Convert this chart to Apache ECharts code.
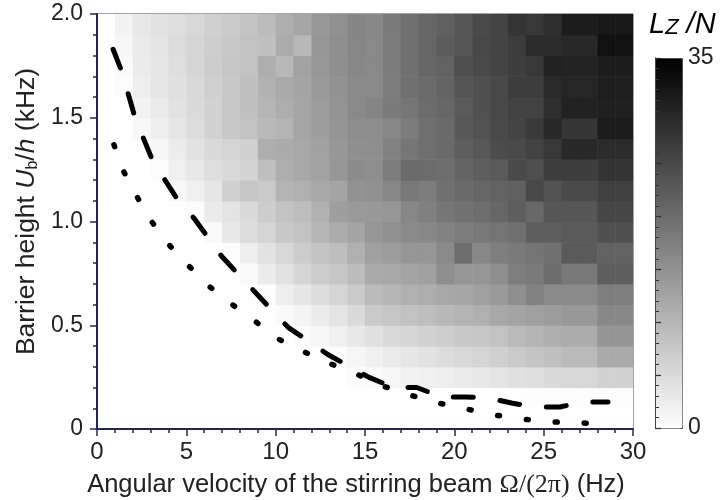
<!DOCTYPE html>
<html><head><meta charset="utf-8">
<script src="https://cdn.jsdelivr.net/npm/echarts@6/dist/echarts.min.js"></script>
<style>html,body{margin:0;padding:0;background:#fff}#c{width:720px;height:500px}</style>
</head><body><div id="c"></div>
<script>
// Bin edges
const omegaEdges = [0,1,2,3,4,5,6,7,8,9,10,11,12,13,14,15,16,17,18,19,20,21,22,23,24,25,26,27,28,29,30];
const barrierEdges = [0,0.1,0.2,0.3,0.4,0.5,0.6,0.7,0.8,0.9,1.0,1.1,1.2,1.3,1.4,1.5,1.6,1.7,1.8,1.9,2.0];
// Lz/N per row (row lower edge in kHz), columns = omega bins 0..29 Hz
const lz_190 = [0.1,1.8,3.2,4.0,4.5,5.4,6.5,7.3,7.9,9.2,11.1,12.2,14.1,15.2,16.7,16.3,18.3,19.6,21.0,21.8,23.4,24.8,25.7,27.7,27.3,28.7,31.2,31.2,31.7,31.7];
const lz_180 = [0,1.2,2.9,3.7,4.8,5.6,6.7,7.5,8.4,8.6,11.4,9.7,14.4,15.5,16.6,16.2,18.1,19.6,21.0,22.4,23.2,25.1,25.7,26.8,29.0,29.0,29.5,29.5,32.7,32.7];
const lz_170 = [0,0.7,2.6,3.4,4.5,5.6,6.9,7.8,8.4,11.1,9.7,12.8,14.1,15.5,16.5,16.2,18.1,19.6,21.0,21.5,24.3,24.8,25.7,26.5,27.3,30.3,30.1,30.1,31.2,31.2];
const lz_160 = [0,0.4,2.3,3.4,4.3,5.4,6.6,7.5,8.6,10.6,11.7,12.5,13.9,15.0,16.0,16.0,18.0,19.6,20.3,21.3,23.5,24.0,25.1,26.8,26.8,29.2,29.8,29.8,30.9,30.9];
const lz_150 = [0,0,1.8,2.9,4.0,5.1,6.2,7.5,8.6,10.1,11.3,12.4,13.5,14.8,16.1,16.7,18.3,18.8,20.2,21.0,22.6,24.0,25.1,25.9,25.9,28.7,30.3,30.3,30.6,30.6];
const lz_140 = [0,0,1.0,2.3,3.4,4.8,6.2,7.5,8.4,9.6,10.3,12.4,13.3,14.6,15.6,15.6,16.5,18.1,19.6,20.5,22.9,23.7,24.8,25.7,27.0,29.5,27.6,27.6,31.2,31.2];
const lz_130 = [0,0,0,1.2,2.6,4.0,5.1,5.9,6.5,11.1,11.5,12.0,12.9,14.3,15.4,15.5,17.3,18.8,19.8,20.5,22.1,22.9,24.6,24.8,25.9,27.3,29.5,29.5,29.0,29.0];
const lz_120 = [0,0,0,0.4,2.1,3.2,4.5,5.1,6.0,8.8,11.1,11.9,12.8,14.4,15.8,15.5,18.0,20.3,20.2,19.9,21.3,22.1,22.6,24.8,24.3,26.5,26.5,26.5,28.0,28.0];
const lz_110 = [0,0,0,0,1.0,2.1,3.4,6.5,7.8,7.3,10.3,10.8,11.9,12.5,15.0,15.3,16.6,18.5,17.9,19.6,20.5,21.0,21.5,21.8,25.1,23.7,24.8,24.8,26.2,26.2];
const lz_100 = [0,0,0,0,0,0.4,2.7,3.7,5.1,6.8,8.3,9.1,10.7,13.3,13.9,14.0,14.3,16.5,17.5,18.8,19.4,19.9,21.0,22.1,20.7,23.2,23.2,23.2,25.4,25.4];
const lz_090 = [0,0,0,0,0,0,0.7,3.2,4.8,5.9,7.5,8.4,10.0,11.4,12.5,14.4,15.2,16.1,16.3,17.2,18.0,18.5,19.1,19.6,22.1,22.1,22.6,22.6,24.0,24.0];
const lz_080 = [0,0,0,0,0,0,0,0.4,2.3,4.0,5.4,7.0,8.1,8.9,10.8,13.0,13.6,14.4,14.4,16.1,19.9,16.3,17.7,18.3,19.1,19.6,22.6,22.6,21.5,21.5];
const lz_070 = [0,0,0,0,0,0,0,0,0.7,2.6,4.0,5.6,7.0,7.8,9.2,11.7,11.9,12.5,13.0,15.5,14.4,14.4,15.5,17.7,18.3,20.2,18.5,18.5,22.1,22.1];
const lz_060 = [0,0,0,0,0,0,0,0,0,0.4,2.3,3.4,4.8,5.9,7.3,9.3,10.0,10.8,11.2,11.9,12.2,13.0,13.9,15.5,17.2,16.1,16.1,16.1,17.7,17.7];
const lz_050 = [0,0,0,0,0,0,0,0,0,0,0.7,1.5,2.6,3.7,5.1,7.3,7.8,8.4,8.9,9.7,10.3,10.8,11.9,12.5,13.0,13.6,14.1,14.1,16.3,16.3];
const lz_040 = [0,0,0,0,0,0,0,0,0,0,0,0.4,1.2,2.1,3.2,4.3,5.1,5.6,6.2,6.7,7.5,7.8,8.4,9.5,10.3,11.1,11.4,11.4,14.5,14.5];
const lz_030 = [0,0,0,0,0,0,0,0,0,0,0,0,0,0.4,1.2,2.1,2.9,3.4,4.0,4.8,5.4,5.9,6.5,7.3,8.1,8.6,9.5,9.5,11.7,11.7];
const lz_020 = [0,0,0,0,0,0,0,0,0,0,0,0,0,0,0.4,0.7,1.2,1.8,2.1,2.3,2.7,3.2,3.7,4.3,4.5,5.1,5.4,5.4,6.2,6.2];
const lz_010 = [0,0,0,0,0,0,0,0,0,0,0,0,0,0,0,0,0,0,0.2,0.2,0.2,0.2,0.2,0.2,0.3,0.4,0.4,0.4,0.4,0.4];
const lz_000 = [0,0,0,0,0,0,0,0,0,0,0,0,0,0,0,0,0,0,0,0,0,0,0,0,0,0,0,0,0,0];
// rows ordered from bottom (0-0.1 kHz) to top (1.9-2.0 kHz)
const lzRows = [lz_000,lz_010,lz_020,lz_030,lz_040,lz_050,lz_060,lz_070,lz_080,lz_090,lz_100,lz_110,lz_120,lz_130,lz_140,lz_150,lz_160,lz_170,lz_180,lz_190];
// Boundary curves [omega (Hz), Ub/h (kHz)]
const dashCurve = [[0.9,1.83],[1.4,1.72],[2.13,1.50],[3.13,1.29],[4.48,1.11],[5.48,1.01],[7.0,0.83],[8.84,0.66],[10.7,0.49],[12.9,0.36],[15.2,0.25],[16.6,0.20],[17.9,0.20],[19.3,0.154],[20.6,0.154],[21.9,0.15],[23.2,0.125],[24.5,0.106],[25.9,0.106],[27.2,0.13],[28.6,0.13]];
const dotCurve = [[0.95,1.37],[1.5,1.24],[2.24,1.12],[2.97,1.01],[3.9,0.90],[4.98,0.80],[6.1,0.70],[7.4,0.61],[8.7,0.53],[10.0,0.44],[11.4,0.38],[12.9,0.32],[14.4,0.27],[15.9,0.21],[17.5,0.164],[19.1,0.125],[20.7,0.096],[22.3,0.067],[23.8,0.048],[25.5,0.034],[27.1,0.029],[28.6,0.024]];
const colorbarMin = 0, colorbarMax = 35;

const cells = [];
lzRows.forEach((row, k) => {
  row.forEach((v, c) => {
    cells.push([omegaEdges[c], omegaEdges[c+1], barrierEdges[k], barrierEdges[k+1], v]);
  });
});

const FONT = "'Liberation Sans', Arial, sans-serif";
const SERIF = "'Liberation Serif', 'Times New Roman', serif";
const AX = '#24245a';
const chart = echarts.init(document.getElementById('c'));
chart.setOption({
  animation: false,
  backgroundColor: '#fff',
  title: {
    left: 649, top: 1, padding: 0,
    text: '{i|L}{s|Z}{i| /N}',
    textStyle: {
      fontWeight: 'normal',
      rich: {
        i: {fontFamily: FONT, fontStyle: 'italic', fontWeight: 'normal', fontSize: 29, color: '#000', lineHeight: 38, verticalAlign: 'bottom'},
        s: {fontFamily: FONT, fontStyle: 'italic', fontWeight: 'normal', fontSize: 22, color: '#000', lineHeight: 30, verticalAlign: 'bottom'}
      }
    }
  },
  grid: [
    {left: 97, top: 14, right: 87, bottom: 71, show: true, borderColor: '#444466', borderWidth: 1, backgroundColor: 'transparent', containLabel: false, outerBoundsMode: 'none'},
    {left: 655, top: 58, width: 27, height: 370, show: false, containLabel: false, outerBoundsMode: 'none'}
  ],
  xAxis: [
    {type: 'value', min: 0, max: 30, interval: 5, z: 10,
     name: '{t|Angular velocity of the stirring beam }{g|Ω/(2π)}{t| (Hz)}', nameLocation: 'middle', nameGap: 43,
     nameTextStyle: {padding: [0, 18, 0, 0], rich: {
       t: {fontFamily: FONT, fontSize: 25.5, color: '#222'},
       g: {fontFamily: SERIF, fontSize: 26, color: '#222'}
     }},
     axisLine: {show: true, onZero: false, lineStyle: {color: AX, width: 2}},
     axisTick: {show: true, length: 7, lineStyle: {color: AX, width: 1.5}},
     minorTick: {show: true, splitNumber: 5, length: 4, lineStyle: {color: AX, width: 1.5}},
     axisLabel: {fontFamily: FONT, fontSize: 24, color: '#222', margin: 11},
     splitLine: {show: false}},
    {type: 'value', gridIndex: 1, show: false, min: 0, max: 1}
  ],
  yAxis: [
    {type: 'value', min: 0, max: 2, interval: 0.5, z: 10,
     name: '{t|Barrier height }{i|U}{s|b}{t|/}{i|h}{t| (kHz)}', nameLocation: 'middle', nameGap: 52,
     nameTextStyle: {padding: [0, 0, 0, 20], rich: {
       t: {fontFamily: FONT, fontSize: 26.5, color: '#222', lineHeight: 34, verticalAlign: 'bottom'},
       i: {fontFamily: FONT, fontSize: 26.5, fontStyle: 'italic', color: '#222', lineHeight: 34, verticalAlign: 'bottom'},
       s: {fontFamily: FONT, fontSize: 16, color: '#222', lineHeight: 18, verticalAlign: 'bottom'}
     }},
     axisLine: {show: true, onZero: false, lineStyle: {color: AX, width: 2}},
     axisTick: {show: true, length: 7, lineStyle: {color: AX, width: 1.5}},
     minorTick: {show: true, splitNumber: 5, length: 4, lineStyle: {color: AX, width: 1.5}},
     axisLabel: {fontFamily: FONT, fontSize: 23, color: '#222', margin: 14,
       formatter: v => v === 0 ? '0' : v.toFixed(1)},
     splitLine: {show: false}},
    {type: 'value', gridIndex: 1, min: colorbarMin, max: colorbarMax, interval: 5, position: 'right', z: 10,
     axisLine: {show: true, lineStyle: {color: '#444', width: 1}},
     axisTick: {show: true, length: 6, lineStyle: {color: '#222', width: 1.2}},
     axisLabel: {fontFamily: FONT, fontSize: 23, color: '#222', margin: 6,
       formatter: v => (v === colorbarMin || v === colorbarMax) ? String(v) : ''},
     splitLine: {show: false}},
    {type: 'value', gridIndex: 1, min: colorbarMin, max: colorbarMax, interval: 1, position: 'left', z: 10,
     axisLine: {show: true, lineStyle: {color: '#444', width: 1}},
     axisTick: {show: true, inside: true, length: 4, lineStyle: {color: '#333', width: 1}},
     axisLabel: {show: false},
     splitLine: {show: false}}
  ],
  visualMap: {
    type: 'continuous', min: colorbarMin, max: colorbarMax, dimension: 4, seriesIndex: 0,
    orient: 'vertical', left: 655, top: 58, itemWidth: 27, itemHeight: 370,
    calculable: false, padding: 0, hoverLink: false,
    inRange: {color: ['#ffffff', '#000000']},
    borderColor: '#444', borderWidth: 1, z: 1
  },
  series: [
    {type: 'custom', xAxisIndex: 0, yAxisIndex: 0, clip: true, z: 1,
     encode: {x: [0, 1], y: [2, 3]},
     data: cells,
     renderItem: function (params, api) {
       const p0 = api.coord([api.value(0), api.value(3)]);
       const p1 = api.coord([api.value(1), api.value(2)]);
       return {type: 'rect', shape: {x: p0[0], y: p0[1], width: p1[0] - p0[0] + 0.6, height: p1[1] - p0[1] + 0.6},
               style: {fill: api.visual('color')}};
     }},
    {type: 'line', xAxisIndex: 0, yAxisIndex: 0, data: dashCurve, showSymbol: false, z: 5,
     lineStyle: {color: '#000', width: 5, type: [20, 27], cap: 'round'}},
    {type: 'line', xAxisIndex: 0, yAxisIndex: 0, data: dotCurve, showSymbol: false, z: 5,
     lineStyle: {color: '#000', width: 5.5, type: [2, 27], cap: 'round'}}
  ]
});
</script></body></html>
